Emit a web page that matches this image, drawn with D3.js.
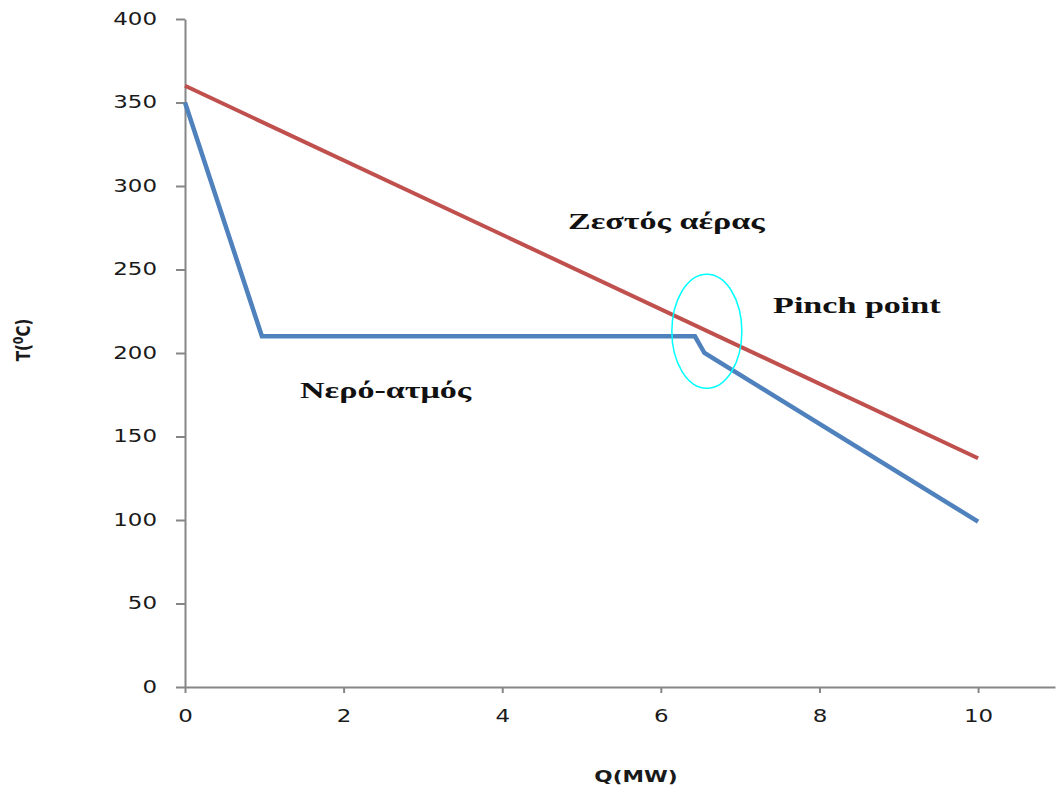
<!DOCTYPE html>
<html><head><meta charset="utf-8">
<script src="https://cdn.jsdelivr.net/npm/d3@7"></script>
<style>body{margin:0;background:#fff}</style>
</head><body><svg id="c" width="1056" height="794"></svg>
<script>
const airQ = [0, 10];
const airT = [360, 137];
const waterQ = [0, 0.97, 6.43, 6.55, 10];
const waterT = [350, 210, 210, 200, 99];
const xTicks = [0, 2, 4, 6, 8, 10];
const yTicks = [0, 50, 100, 150, 200, 250, 300, 350, 400];
const labels = [
  {text: "Ζεστός αέρας", q: 4.83, t: 274},
  {text: "Pinch point", q: 7.415, t: 224},
  {text: "Νερό-ατμός", q: 1.45, t: 173}
];
const pinch = {q: 6.58, t: 213};

const SX = 1.35; // horizontal stretch of the reference's text
const SXL = 1.42;
const svg = d3.select("#c");
const x = d3.scaleLinear().domain([0, 10.97]).range([185, 1055]);
const y = d3.scaleLinear().domain([0, 400]).range([687, 19]);
const axisColor = "#868686";

const gx = svg.append("g").attr("transform", "translate(0,687)")
  .call(d3.axisBottom(x).tickValues(xTicks).tickSize(6).tickPadding(17).tickSizeOuter(0));
const gy = svg.append("g").attr("transform", "translate(185,0)")
  .call(d3.axisLeft(y).tickValues(yTicks).tickSize(9).tickPadding(19).tickSizeOuter(0));
[gx, gy].forEach(g => {
  g.selectAll("path,line").attr("stroke", axisColor).attr("stroke-width", 2);
  g.selectAll("text").attr("font-family", "DejaVu Sans, Verdana, sans-serif").attr("font-size", 17).attr("fill", "#1a1a1a")
    .attr("x", function() { return (+this.getAttribute("x") || 0) / SX; })
    .attr("transform", `scale(${SX},1)`);
});

const line = d3.line().x(d => x(d[0])).y(d => y(d[1]));
svg.append("path").datum(airQ.map((q, i) => [q, airT[i]]))
  .attr("d", line).attr("fill", "none").attr("stroke", "#C0504D").attr("stroke-width", 4);
svg.append("path").datum(waterQ.map((q, i) => [q, waterT[i]]))
  .attr("d", line).attr("fill", "none").attr("stroke", "#4F81BD").attr("stroke-width", 4.5).attr("stroke-linejoin", "miter");

svg.append("ellipse").attr("cx", x(pinch.q)).attr("cy", y(pinch.t)).attr("rx", 35).attr("ry", 57)
  .attr("fill", "none").attr("stroke", "#00FFFF").attr("stroke-width", 1.5);

svg.selectAll(".lbl").data(labels).enter().append("text")
  .attr("transform", d => `translate(${x(d.q)},${y(d.t)}) scale(${SXL},1)`)
  .attr("font-family", "Liberation Serif, Times New Roman, serif").attr("font-weight", "bold").attr("font-size", 24)
  .attr("fill", "#111").text(d => d.text);

svg.append("text").attr("transform", `translate(636,782) scale(${SX},1)`).attr("text-anchor", "middle")
  .attr("font-family", "DejaVu Sans, Verdana, sans-serif").attr("font-weight", "bold").attr("font-size", 16)
  .attr("fill", "#1a1a1a").text("Q(MW)");
svg.append("text").attr("transform", `translate(30,340) scale(${SX},1) rotate(-90)`).attr("text-anchor", "middle")
  .attr("font-family", "DejaVu Sans, Verdana, sans-serif").attr("font-weight", "bold").attr("font-size", 15)
  .attr("fill", "#1a1a1a").html('T(<tspan dy="-5" font-size="11">0</tspan><tspan dy="5">C)</tspan>');
</script></body></html>
